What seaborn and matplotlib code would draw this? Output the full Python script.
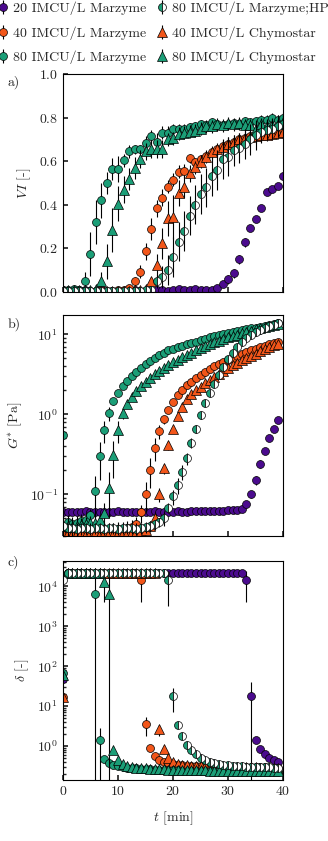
import numpy as np
import matplotlib
matplotlib.use("Agg")
import matplotlib.pyplot as plt
from matplotlib.legend_handler import HandlerTuple
import seaborn as sns

# ---------------------------------------------------------
# Data
# ---------------------------------------------------------
TOP = 2.1e4  # plateau of delta before gelation

# a) visual index, one point per minute
t_vi = np.arange(41)

vi_p20 = [0.005, 0.005, 0.006, 0.005, 0.008, 0.005, 0.006, 0.012, 0.005, 0.006,
          0.005, 0.004, 0.006, 0.008, 0.005, 0.004, 0.006, 0.010, 0.008, 0.006,
          0.010, 0.012, 0.010, 0.008, 0.015, 0.010, 0.008, 0.010, 0.017, 0.037,
          0.058, 0.086, 0.150, 0.228, 0.292, 0.335, 0.384, 0.460, 0.471, 0.486, 0.533]
vi_p20_err = [0, 0, 0, 0, 0, 0, 0, 0, 0, 0, 0, 0, 0, 0, 0, 0, 0, 0, 0, 0,
              0, 0, 0, 0, 0, 0, 0, 0, 0.01, 0.01, 0.02, 0.02, 0.02, 0.02, 0.01,
              0.01, 0.01, 0.01, 0.01, 0.01, 0.01]

vi_o40 = [0.008, 0.006, 0.005, 0.007, 0.005, 0.006, 0.005, 0.008, 0.006, 0.005,
          0.007, 0.010, 0.020, 0.049, 0.093, 0.186, 0.288, 0.384, 0.433, 0.483,
          0.514, 0.552, 0.555, 0.613, 0.595, 0.610, 0.625, 0.640, 0.655, 0.668,
          0.680, 0.688, 0.700, 0.708, 0.715, 0.720, 0.725, 0.728, 0.730, 0.735, 0.740]
vi_o40_err = [0, 0, 0, 0, 0, 0, 0, 0, 0, 0, 0, 0, 0.01, 0.02, 0.03, 0.04, 0.05,
              0.04, 0.04, 0.03, 0.03, 0.03, 0.03, 0.02, 0.02, 0.02, 0.02, 0.02,
              0.02, 0.02, 0.02, 0.02, 0.02, 0.02, 0.02, 0.02, 0.02, 0.02, 0.02,
              0.02, 0.02]

vi_g80 = [0.010, 0.010, 0.012, 0.010, 0.050, 0.175, 0.320, 0.420, 0.500, 0.565,
          0.565, 0.605, 0.645, 0.655, 0.655, 0.685, 0.715, 0.690, 0.730, 0.730,
          0.750, 0.750, 0.750, 0.755, 0.760, 0.770, 0.765, 0.780, 0.770, 0.765,
          0.770, 0.775, 0.770, 0.785, 0.780, 0.785, 0.790, 0.790, 0.800, 0.790, 0.800]
vi_g80_err = [0, 0, 0, 0, 0.04, 0.10, 0.10, 0.08, 0.05, 0.05, 0.06, 0.03, 0.03,
              0.02, 0.02, 0.03, 0.03, 0.04, 0.03, 0.03, 0.02, 0.02, 0.02, 0.02,
              0.02, 0.02, 0.02, 0.02, 0.02, 0.02, 0.02, 0.02, 0.02, 0.02, 0.02,
              0.02, 0.02, 0.02, 0.02, 0.02, 0.02]

vi_hp = [0.005, 0.005, 0.006, 0.005, 0.005, 0.006, 0.005, 0.005, 0.006, 0.005,
         0.005, 0.006, 0.005, 0.005, 0.006, 0.008, 0.010, 0.050, 0.070, 0.100,
         0.160, 0.230, 0.280, 0.350, 0.400, 0.450, 0.480, 0.530, 0.560, 0.610,
         0.620, 0.650, 0.660, 0.680, 0.700, 0.720, 0.735, 0.745, 0.750, 0.760, 0.770]
vi_hp_err = [0, 0, 0, 0, 0, 0, 0, 0, 0, 0, 0, 0, 0, 0, 0, 0, 0, 0.03, 0.05,
             0.07, 0.09, 0.09, 0.09, 0.09, 0.09, 0.09, 0.09, 0.09, 0.09, 0.09,
             0.09, 0.07, 0.07, 0.07, 0.07, 0.07, 0.05, 0.05, 0.05, 0.05, 0.05]

vi_o40c = [0.006, 0.005, 0.005, 0.006, 0.005, 0.005, 0.006, 0.005, 0.005, 0.006,
           0.005, 0.005, 0.006, 0.008, 0.010, 0.015, 0.050, 0.124, 0.223, 0.338,
           0.345, 0.453, 0.480, 0.544, 0.572, 0.598, 0.620, 0.640, 0.655, 0.665,
           0.680, 0.690, 0.700, 0.705, 0.710, 0.715, 0.720, 0.722, 0.725, 0.730, 0.735]
vi_o40c_err = [0, 0, 0, 0, 0, 0, 0, 0, 0, 0, 0, 0, 0, 0, 0, 0, 0.02, 0.05, 0.07,
               0.08, 0.10, 0.06, 0.05, 0.04, 0.03, 0.03, 0.03, 0.03, 0.03, 0.03,
               0.03, 0.03, 0.03, 0.03, 0.03, 0.03, 0.03, 0.03, 0.03, 0.03, 0.03]

vi_g80c = [0.008, 0.008, 0.009, 0.008, 0.010, 0.009, 0.012, 0.050, 0.140, 0.285,
           0.405, 0.470, 0.520, 0.570, 0.610, 0.645, 0.655, 0.655, 0.655, 0.700,
           0.705, 0.725, 0.730, 0.735, 0.740, 0.750, 0.760, 0.760, 0.770, 0.765,
           0.775, 0.770, 0.775, 0.765, 0.765, 0.750, 0.770, 0.760, 0.765, 0.770, 0.780]
vi_g80c_err = [0, 0, 0, 0, 0, 0, 0, 0.04, 0.08, 0.10, 0.08, 0.06, 0.05, 0.05,
               0.04, 0.04, 0.04, 0.04, 0.04, 0.03, 0.03, 0.03, 0.03, 0.03, 0.03,
               0.03, 0.03, 0.03, 0.03, 0.03, 0.03, 0.03, 0.03, 0.03, 0.03, 0.03,
               0.03, 0.03, 0.03, 0.03, 0.03]

# b) and c) rheology, one point every 50 s
t_rh = np.arange(48) * 50 / 60

gs_p20 = [0.060, 0.060, 0.059, 0.060, 0.060, 0.061, 0.060, 0.060, 0.059, 0.060,
          0.060, 0.060, 0.061, 0.060, 0.060, 0.060, 0.059, 0.060, 0.060, 0.060,
          0.061, 0.060, 0.060, 0.060, 0.060, 0.061, 0.060, 0.060, 0.061, 0.061,
          0.061, 0.061, 0.062, 0.062, 0.062, 0.062, 0.063, 0.063, 0.064, 0.065,
          0.075, 0.10, 0.15, 0.24, 0.35, 0.50, 0.66, 0.84]
gs_p20_err = [0.003] * 40 + [0.005, 0.01, 0.02, 0.03, 0.03, 0.03, 0.03, 0.03]

gs_o40 = [0.036, 0.036, 0.035, 0.035, 0.036, 0.035, 0.034, 0.035, 0.035, 0.036,
          0.035, 0.036, 0.037, 0.037, 0.038, 0.039, 0.042, 0.059, 0.10, 0.20,
          0.38, 0.61, 0.86, 1.14, 1.42, 1.73, 2.0, 2.3, 2.55, 2.8,
          3.1, 3.4, 3.65, 3.95, 4.2, 4.5, 4.8, 5.1, 5.4, 5.7,
          6.0, 6.3, 6.6, 6.9, 7.2, 7.5, 7.8, 8.1]
gs_o40_err = [0.008] * 16 + [0.01, 0.015, 0.04, 0.08, 0.12, 0.12, 0.10, 0.08] + [0.1] * 24

gs_g80 = [0.55, 0.045, 0.042, 0.044, 0.046, 0.048, 0.055, 0.11, 0.30, 0.63,
          1.02, 1.45, 1.85, 2.25, 2.6, 3.0, 3.4, 3.8, 4.2, 4.6,
          5.0, 5.5, 5.9, 6.3, 6.6, 6.9, 7.2, 7.5, 7.8, 8.1,
          8.5, 8.8, 9.1, 9.4, 9.7, 10.0, 10.3, 10.6, 10.9, 11.2,
          11.5, 11.8, 12.1, 12.4, 12.7, 13.0, 13.3, 13.7]
gs_g80_err = [0.0, 0.01, 0.01, 0.01, 0.01, 0.01, 0.01, 0.06, 0.15, 0.2,
              0.2, 0.15] + [0.1] * 36

gs_hp = [0.040, 0.038, 0.038, 0.037, 0.038, 0.038, 0.037, 0.038, 0.038, 0.037,
         0.038, 0.038, 0.037, 0.038, 0.038, 0.038, 0.037, 0.038, 0.039, 0.040,
         0.042, 0.045, 0.050, 0.068, 0.094, 0.13, 0.19, 0.28, 0.44, 0.66,
         0.97, 1.36, 1.85, 2.4, 3.1, 3.9, 4.9, 5.9, 7.0, 8.0,
         8.9, 9.8, 10.6, 11.3, 11.9, 12.5, 13.1, 13.7]
gs_hp_err = [0.006] * 22 + [0.01, 0.01, 0.02, 0.03, 0.04, 0.05, 0.06, 0.08] + [0.1] * 18

gs_o40c = [0.033, 0.033, 0.032, 0.033, 0.033, 0.032, 0.033, 0.033, 0.032, 0.033,
           0.033, 0.032, 0.033, 0.033, 0.033, 0.034, 0.034, 0.035, 0.036, 0.040,
           0.050, 0.10, 0.21, 0.41, 0.66, 0.94, 1.23, 1.53, 1.8, 2.0,
           2.2, 2.45, 2.7, 2.95, 3.2, 3.5, 3.8, 4.1, 4.4, 4.7,
           5.0, 5.35, 5.7, 6.1, 6.5, 6.9, 7.3, 7.6]
gs_o40c_err = [0.004] * 20 + [0.01, 0.02, 0.03, 0.05, 0.05] + [0.08] * 23

gs_g80c = [0.040, 0.040, 0.039, 0.040, 0.041, 0.042, 0.043, 0.044, 0.047, 0.058,
           0.12, 0.31, 0.63, 1.02, 1.35, 1.65, 1.95, 2.25, 2.55, 2.85,
           3.15, 3.45, 3.8, 4.15, 4.5, 4.8, 5.15, 5.5, 5.9, 6.3,
           6.7, 7.1, 7.5, 7.9, 8.3, 8.7, 9.1, 9.5, 9.9, 10.3,
           10.7, 11.1, 11.5, 11.9, 12.3, 12.6, 12.9, 13.3]
gs_g80c_err = [0.01] * 9 + [0.02, 0.07, 0.15, 0.2, 0.15] + [0.1] * 34

# c) phase angle delta
d_p20 = [49] + [TOP] * 39 + [1.4e4, 18, 1.41, 0.84, 0.62, 0.49, 0.45, 0.39]
d_p20_err = [0] * 40 + [1.0e4, 22, 0.1, 0.05, 0.03, 0.02, 0.02, 0.02]

d_o40 = [17] + [TOP] * 16 + [1.4e4, 3.6, 0.9, 0.57, 0.45, 0.40, 0.37, 0.35, 0.34, 0.33,
                             0.325, 0.32, 0.318, 0.315, 0.312, 0.31, 0.31, 0.305, 0.30, 0.30,
                             0.30, 0.298, 0.296, 0.295, 0.294, 0.293, 0.292, 0.291, 0.29, 0.29,
                             0.29]
d_o40_err = [0] * 17 + [1.0e4, 1.8, 0.15] + [0.02] * 28

d_g80 = [66] + [TOP] * 6 + [6.6e3, 1.4, 0.48, 0.38, 0.34, 0.32, 0.30, 0.29, 0.28, 0.275,
                            0.27, 0.265, 0.26, 0.258, 0.255, 0.252, 0.25, 0.248, 0.246, 0.244,
                            0.242, 0.24, 0.238, 0.237, 0.236, 0.235, 0.234, 0.233, 0.232, 0.231,
                            0.23, 0.23, 0.229, 0.228, 0.227, 0.226, 0.225, 0.224, 0.223, 0.222,
                            0.221]
d_g80_err = [0] * 7 + [1.45e4, 1.5, 0.05] + [0.01] * 38

d_hp = [1.4e4] + [TOP] * 22 + [1.4e4, 18, 3.3, 1.8, 1.06, 0.8, 0.62, 0.51, 0.45, 0.40,
                               0.37, 0.35, 0.34, 0.33, 0.32, 0.315, 0.31, 0.305, 0.30, 0.298,
                               0.296, 0.294, 0.292, 0.29, 0.288]
d_hp_err = [0] * 23 + [1.07e4, 11, 0.3, 0.1] + [0.02] * 21

d_o40c = [17] + [TOP] * 20 + [2.6, 0.84, 0.51, 0.41, 0.36, 0.34, 0.33, 0.32, 0.315, 0.31,
                              0.31, 0.305, 0.30, 0.30, 0.30, 0.298, 0.296, 0.295, 0.294, 0.293,
                              0.292, 0.291, 0.29, 0.29, 0.29, 0.29, 0.29]
d_o40c_err = [0] * 21 + [0.8, 0.1] + [0.02] * 25

d_g80c = [60] + [TOP] * 8 + [1.3e4, 6.5e3, 0.8, 0.45, 0.36, 0.32, 0.30, 0.29, 0.28, 0.275,
                             0.27, 0.265, 0.262, 0.26, 0.258, 0.255, 0.253, 0.25, 0.249, 0.248,
                             0.247, 0.246, 0.245, 0.244, 0.243, 0.242, 0.241, 0.24, 0.24, 0.239,
                             0.238, 0.238, 0.237, 0.236, 0.236, 0.235, 0.235, 0.234, 0.234]
d_g80c_err = [0] * 9 + [9e3, 1.45e4, 0.15] + [0.01] * 36

labels = ['20 IMCU/L Marzyme', '40 IMCU/L Marzyme', '80 IMCU/L Marzyme',
          '80 IMCU/L Marzyme;HP', '40 IMCU/L Chymostar', '80 IMCU/L Chymostar']

# ---------------------------------------------------------
# Style
# ---------------------------------------------------------
PURPLE = '#4b0b8e'
ORANGE = '#f2561a'
GREEN = '#1b9e77'

sns.set_theme(style='ticks')
plt.rcParams.update({
    'font.family': ['cmr10'],
    'mathtext.fontset': 'cm',
    'axes.formatter.use_mathtext': True,
    'font.size': 10,
    'axes.labelsize': 10,
    'xtick.labelsize': 10,
    'ytick.labelsize': 10,
    'legend.fontsize': 10,
    'xtick.direction': 'in',
    'ytick.direction': 'in',
    'xtick.major.size': 3.5,
    'ytick.major.size': 3.5,
    'xtick.minor.size': 2,
    'ytick.minor.size': 2,
    'axes.linewidth': 0.8,
    'axes.edgecolor': 'black',
})

# series style: (color, marker, half filled)
styles = {
    'p20': (PURPLE, 'o', False),
    'o40': (ORANGE, 'o', False),
    'g80': (GREEN, 'o', False),
    'hp': (GREEN, 'o', True),
    'o40c': (ORANGE, '^', False),
    'g80c': (GREEN, '^', False),
}
legend_order = ['p20', 'o40', 'g80', 'hp', 'o40c', 'g80c']
draw_order = ['p20', 'o40', 'o40c', 'g80', 'g80c', 'hp']

panels = {
    'a': (t_vi, {'p20': (vi_p20, vi_p20_err), 'o40': (vi_o40, vi_o40_err),
                 'g80': (vi_g80, vi_g80_err), 'hp': (vi_hp, vi_hp_err),
                 'o40c': (vi_o40c, vi_o40c_err), 'g80c': (vi_g80c, vi_g80c_err)}),
    'b': (t_rh, {'p20': (gs_p20, gs_p20_err), 'o40': (gs_o40, gs_o40_err),
                 'g80': (gs_g80, gs_g80_err), 'hp': (gs_hp, gs_hp_err),
                 'o40c': (gs_o40c, gs_o40c_err), 'g80c': (gs_g80c, gs_g80c_err)}),
    'c': (t_rh, {'p20': (d_p20, d_p20_err), 'o40': (d_o40, d_o40_err),
                 'g80': (d_g80, d_g80_err), 'hp': (d_hp, d_hp_err),
                 'o40c': (d_o40c, d_o40c_err), 'g80c': (d_g80c, d_g80c_err)}),
}

fig = plt.figure(figsize=(3.28, 8.41), dpi=100)
axes = {
    'a': fig.add_axes([0.192, 0.6528, 0.671, 0.2592]),
    'b': fig.add_axes([0.192, 0.3627, 0.671, 0.2628]),
    'c': fig.add_axes([0.192, 0.0725, 0.671, 0.2604]),
}
axes['b'].set_yscale('log')
axes['c'].set_yscale('log')

handles = {}
for key, ax in axes.items():
    t, series = panels[key]
    for name in draw_order:
        vals, err = series[name]
        color, marker, half = styles[name]
        eb = ax.errorbar(t, vals, yerr=err, fmt='none', ecolor='black',
                         elinewidth=0.8, capsize=0)
        kw = dict(marker=marker, linestyle='', color=color,
                  markerfacecolor=color, markeredgecolor='black',
                  markeredgewidth=0.5, markersize=5.7 if marker == 'o' else 6.5)
        if half:
            kw.update(fillstyle='left', markerfacecoloralt='white')
        sns.lineplot(x=t, y=vals, ax=ax, estimator=None, errorbar=None,
                     legend=False, **kw)
        if key == 'a':
            handles[name] = (eb, ax.lines[-1])

for ax in axes.values():
    ax.set_xlim(0, 40)
    ax.set_xticks([0, 10, 20, 30, 40])
    ax.tick_params(which='both', top=False, right=False)
    for s in ax.spines.values():
        s.set_visible(True)

axes['a'].set_ylim(0, 1.0)
axes['a'].set_yticks([0.0, 0.2, 0.4, 0.6, 0.8, 1.0])
axes['a'].set_ylabel(r'$VI$ [-]')
axes['a'].tick_params(labelbottom=False)

axes['b'].set_ylim(0.030, 17.4)
axes['b'].set_yticks([0.1, 1, 10])
axes['b'].set_ylabel(r'$G^{*}$ [Pa]')
axes['b'].tick_params(labelbottom=False)

axes['c'].set_ylim(0.141, 4.3e4)
axes['c'].set_yticks([1, 10, 100, 1e3, 1e4])
axes['c'].set_ylabel(r'$\delta$ [-]')
axes['c'].set_xlabel(r'$t$ [min]', labelpad=8)

fig.text(8 / 328, 1 - 82 / 841, 'a)', ha='left', va='center')
fig.text(8 / 328, 1 - 324 / 841, 'b)', ha='left', va='center')
fig.text(8 / 328, 1 - 562 / 841, 'c)', ha='left', va='center')

fig.legend([handles[n] for n in legend_order], labels, ncol=2,
           loc='upper left', bbox_to_anchor=(0.0, 1.0), frameon=False,
           handlelength=0.3, handletextpad=0.55, columnspacing=1.0,
           labelspacing=0.8, borderaxespad=0.0, borderpad=0.1,
           handler_map={tuple: HandlerTuple(ndivide=1)})

fig.savefig('out.png', dpi=100)
